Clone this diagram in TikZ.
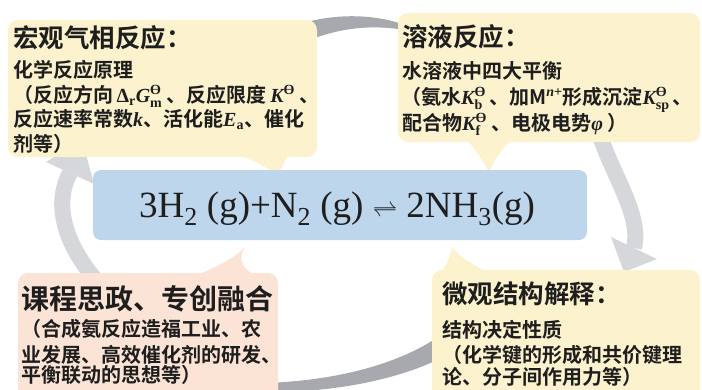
\documentclass[tikz,border=0pt]{standalone}
\usepackage{fontspec}
\usepackage{amsmath}
\newfontfamily\cjk[BoldFont={Noto Sans CJK SC Bold}]{Noto Sans CJK SC}
\newfontfamily\eqfont{Liberation Serif}
\definecolor{ylw}{HTML}{FCF2CE}
\definecolor{pnk}{HTML}{FBE3D5}
\definecolor{blu}{HTML}{BDD6EC}
\definecolor{gryL}{HTML}{D5D7DA}
\definecolor{gryD}{HTML}{A7A9AE}
\definecolor{txt}{HTML}{1E1E1E}
\newcommand{\mbi}[1]{\text{\eqfont\bfseries\itshape #1}}
\newcommand{\mbu}[1]{\text{\eqfont\bfseries #1}}
\newcommand{\thet}{\mbu{ϴ}}
\tikzset{
  ttl/.style={anchor=base west, inner sep=0pt, text=txt, font=\cjk\bfseries\fontsize{25.5}{30}\selectfont},
  bdy/.style={anchor=base west, inner sep=0pt, text=txt, font=\cjk\bfseries\fontsize{20}{24}\selectfont},
  band/.style={line width=16pt, gryL},
}
\begin{document}
\begin{tikzpicture}[x=1pt, y=-1pt]
\useasboundingbox (0,0) rectangle (702,389);
\clip (0,0) rectangle (702,389);
% ---- gray cycle arrows ----
\coordinate (la0) at (100,285);
\coordinate (la1) at (70,173);
\draw[band] (la0) .. controls (60,240) and (55,200) .. (la1);
\fill[gryL] (46,162) -- (82,140) -- (94,184) -- cycle;
\coordinate (ra0) at (598,130);
\coordinate (ra1) at (634,248);
\draw[band, gryL] (ra0) .. controls (612,175) and (642,215) .. (ra1);
\fill[gryL] (611,237) -- (657,259) -- (624,272) -- cycle;
\fill[gryD] (300,24) .. controls (335,13) and (375,14) .. (405,25) -- (405,30) .. controls (375,25) and (340,26) .. (300,44) -- cycle;
\fill[gryD] (265,383) .. controls (330,381) and (400,366) .. (445,332) -- (445,356) .. controls (400,380) and (330,393) .. (265,392) -- cycle;
% ---- callout boxes ----
\fill[ylw, rounded corners=10pt] (8,20) rectangle (317,157);
\fill[ylw] (222,150) .. controls (250,158) and (265,165) .. (278,177) .. controls (282,168) and (284,160) .. (292,150) -- cycle;
\fill[ylw, rounded corners=10pt] (398,13) rectangle (700,142);
\fill[ylw] (462,135) .. controls (475,148) and (483,160) .. (489,173) .. controls (495,158) and (503,146) .. (518,135) -- cycle;
\fill[pnk, rounded corners=10pt] (18,273) rectangle (278,405);
\fill[pnk] (185,280) .. controls (215,268) and (236,258) .. (247,245) .. controls (236,258) and (240,272) .. (268,280) -- cycle;
\fill[ylw, rounded corners=10pt] (432,270) rectangle (700,405);
\fill[ylw] (438,278) .. controls (447,265) and (450,256) .. (452,247) .. controls (462,260) and (476,266) .. (498,277) -- cycle;
% ---- central equation ----
\fill[blu, rounded corners=8pt] (93,170) rectangle (587,240);
\node[anchor=base, inner sep=0pt, text=txt, font=\eqfont\fontsize{37}{40}\selectfont] (eq) at (337,217)
  {3H\textsubscript{2} (g)+N\textsubscript{2} (g) $\rightleftharpoons$ 2NH\textsubscript{3}(g)};
% ---- top-left texts ----
\node[ttl] (tlt) at (13,47) {宏观气相反应：};
\node[bdy] (tl1) at (13,77.5) {化学反应原理};
\node[bdy] (tl2) at (13,102) {（反应方向\,$\mbu{Δ}_{\mbu{r}}\mbi{G}^{\thet}_{\mbu{m}}$\ 、反应限度\,$\mbi{K}^{\thet}$\ 、};
\node[bdy] (tl3) at (13,126.5) {反应速率常数$\mbi{k}$、活化能$\mbi{E}_{\mbu{a}}$、催化};
\node[bdy] (tl4) at (13,151) {剂等）};
% ---- top-right texts ----
\node[ttl] (trt) at (402,46) {溶液反应：};
\node[bdy] (tr1) at (402,78) {水溶液中四大平衡};
\node[bdy] (tr2) at (401,104) {（氨水$\mbi{K}^{\thet}_{\mbu{b}}$\,、加M$^{\mbi{n}\mbu{+}}$形成沉淀$\mbi{K}^{\thet}_{\mbu{sp}}$\,、};
\node[bdy] (tr3) at (402,130) {配合物$\mbi{K}^{\thet}_{\mbu{f}}$\ 、电极电势$\mbi{φ}$\ ）};
% ---- bottom-left texts ----
\node[ttl, font=\cjk\bfseries\fontsize{28}{32}\selectfont] (blt) at (21,309) {课程思政、专创融合};
\node[bdy] (bl1) at (21,336.5) {（合成氨反应造福工业、农};
\node[bdy] (bl2) at (21,362) {业发展、高效催化剂的研发、};
\node[bdy] (bl3) at (21,382) {平衡联动的思想等）};
% ---- bottom-right texts ----
\node[ttl] (brt) at (442,303) {微观结构解释：};
\node[bdy] (br1) at (442,337.5) {结构决定性质};
\node[bdy] (br2) at (442,362.5) {（化学键的形成和共价键理};
\node[bdy] (br3) at (442,384) {论、分子间作用力等）};
\end{tikzpicture}
\end{document}
